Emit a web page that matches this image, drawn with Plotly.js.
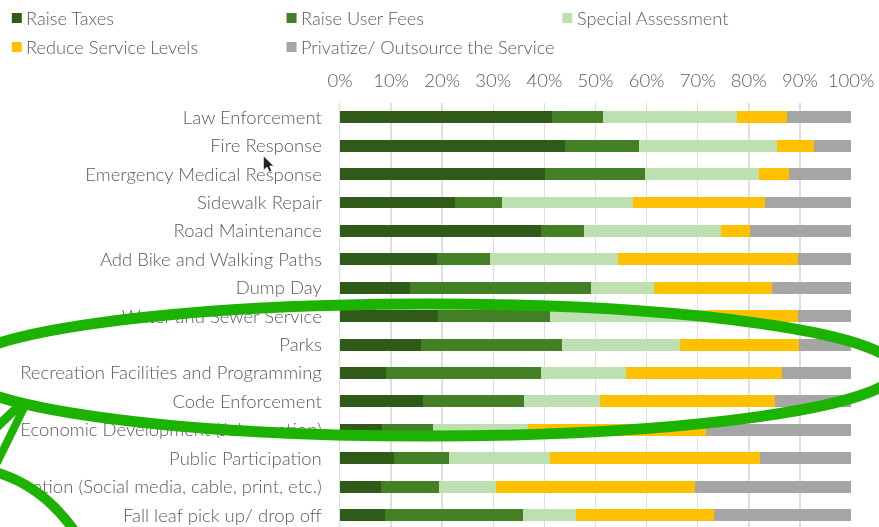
<!DOCTYPE html>
<html>
<head>
<meta charset="utf-8">
<script src="https://cdn.plot.ly/plotly-3.0.1.min.js"></script>
<style>html,body{margin:0;padding:0;background:#fff;overflow:hidden}#chart{width:879px;height:527px;filter:blur(0.45px)}</style>
</head>
<body>
<div id="chart"></div>
<script>
const categories = ["Law Enforcement","Fire Response","Emergency Medical Response","Sidewalk Repair","Road Maintenance","Add Bike and Walking Paths","Dump Day","Water and Sewer Service","Parks","Recreation Facilities and Programming","Code Enforcement","Economic Development (Job creation)","Public Participation","Communication (Social media, cable, print, etc.)","Fall leaf pick up/ drop off"];
const raiseTaxes   = [41.5,44.1,40.2,22.5,39.4,19.0,13.7,19.1,15.9, 9.0,16.3, 8.3,10.6, 8.0, 8.9];
const raiseFees    = [ 9.9,14.5,19.5, 9.2, 8.3,10.3,35.4,22.0,27.6,30.4,19.7, 9.9,10.8,11.3,26.9];
const specialAssmt = [26.3,27.0,22.3,25.7,26.9,25.1,12.3,30.9,23.1,16.6,14.8,18.5,19.6,11.2,10.4];
const reduceLevels = [ 9.8, 7.1, 5.9,25.8, 5.7,35.3,23.2,17.7,23.3,30.4,34.4,35.0,41.1,38.9,26.9];
const privatize    = [12.5, 7.3,12.1,16.8,19.7,10.3,15.4,10.3,10.1,13.6,14.8,28.3,17.9,30.6,26.9];
const seriesNames  = ["Raise Taxes","Raise User Fees","Special Assessment","Reduce Service Levels","Privatize/ Outsource the Service"];
const seriesValues = [raiseTaxes,raiseFees,specialAssmt,reduceLevels,privatize];
const seriesColors = ["#2F5A18","#437F24","#BEE0B0","#FFC000","#A5A5A5"];
const tickValues   = [0,10,20,30,40,50,60,70,80,90,100];

const W=879,H=527,L=339.5,R=851,T=103;
const X=p=>(p-L)/(R-L), Y=p=>1-(p-T)/(H-T);
const fontFam='Lato, "Open Sans", sans-serif', gray='#5A5A5A', fs=18.5;
const legendPos=[[11,18],[286,18],[562,18],[11,47],[286,47]];

const traces=seriesNames.map((n,i)=>({type:'bar',orientation:'h',name:n,x:seriesValues[i],y:categories,
  marker:{color:seriesColors[i],line:{width:0}},width:0.42,showlegend:false,hoverinfo:'x+y+name'}));

const annotations=seriesNames.map((n,i)=>({xref:'paper',yref:'paper',x:X(legendPos[i][0]+12.5),y:Y(legendPos[i][1]),
  text:n,showarrow:false,xanchor:'left',yanchor:'middle',font:{family:fontFam,size:18.2,color:gray,weight:300}}));

const green='#1BB200';
const shapes=seriesNames.map((n,i)=>({type:'rect',xref:'paper',yref:'paper',layer:'above',
  x0:X(legendPos[i][0]),x1:X(legendPos[i][0]+10),y0:Y(legendPos[i][1]-5),y1:Y(legendPos[i][1]+5),
  fillcolor:seriesColors[i],line:{width:0}}));
// hand-drawn highlight ellipse
shapes.push({type:'circle',xref:'paper',yref:'paper',layer:'above',x0:X(427-470),x1:X(427+470),y0:Y(370-66),y1:Y(370+66),
  fillcolor:'rgba(0,0,0,0)',line:{color:green,width:11}});
// arrow strokes
shapes.push({type:'line',xref:'paper',yref:'paper',layer:'above',x0:X(-5),y0:Y(428),x1:X(18),y1:Y(406),line:{color:green,width:9}});
shapes.push({type:'line',xref:'paper',yref:'paper',layer:'above',x0:X(-4),y0:Y(463),x1:X(23),y1:Y(408),line:{color:green,width:8}});
// second shape at lower-left, white filled
shapes.push({type:'path',xref:'paper',yref:'paper',layer:'above',
  path:`M ${X(-6)} ${Y(472)} Q ${X(44)} ${Y(486)} ${X(78)} ${Y(537)} L ${X(-6)} ${Y(537)} Z`,
  fillcolor:'#ffffff',line:{color:green,width:10}});
// mouse cursor
shapes.push({type:'path',xref:'paper',yref:'paper',layer:'above',
  path:`M ${X(263)} ${Y(156)} L ${X(263)} ${Y(170)} L ${X(266.5)} ${Y(167)} L ${X(269)} ${Y(172)} L ${X(271)} ${Y(171)} L ${X(269)} ${Y(166)} L ${X(273)} ${Y(166)} Z`,
  fillcolor:'#222222',line:{color:'#ffffff',width:0.5}});

const layout={width:W,height:H,paper_bgcolor:'#fff',plot_bgcolor:'#fff',barmode:'stack',showlegend:false,
  margin:{l:L,r:W-R,t:T,b:0,pad:0},
  font:{family:fontFam,size:fs,color:gray,weight:300},
  xaxis:{side:'top',range:[0,100],tickvals:tickValues,ticktext:tickValues.map(v=>v+'%'),tickmode:'array',
    showgrid:true,gridcolor:'#DEDEDE',gridwidth:1.5,zeroline:false,showline:false,ticks:'',ticklabelstandoff:11,
    tickfont:{family:fontFam,size:fs,color:gray,weight:300},automargin:false},
  yaxis:{type:'category',categoryorder:'array',categoryarray:categories,range:[14.42,-0.5],showgrid:false,zeroline:false,
    showline:true,linecolor:'#DEDEDE',linewidth:1.5,ticks:'',ticklabelstandoff:13,
    tickfont:{family:fontFam,size:fs,color:gray,weight:300},automargin:false},
  annotations,shapes};
Plotly.newPlot('chart',traces,layout,{displayModeBar:false,staticPlot:true});
</script>
</body>
</html>
